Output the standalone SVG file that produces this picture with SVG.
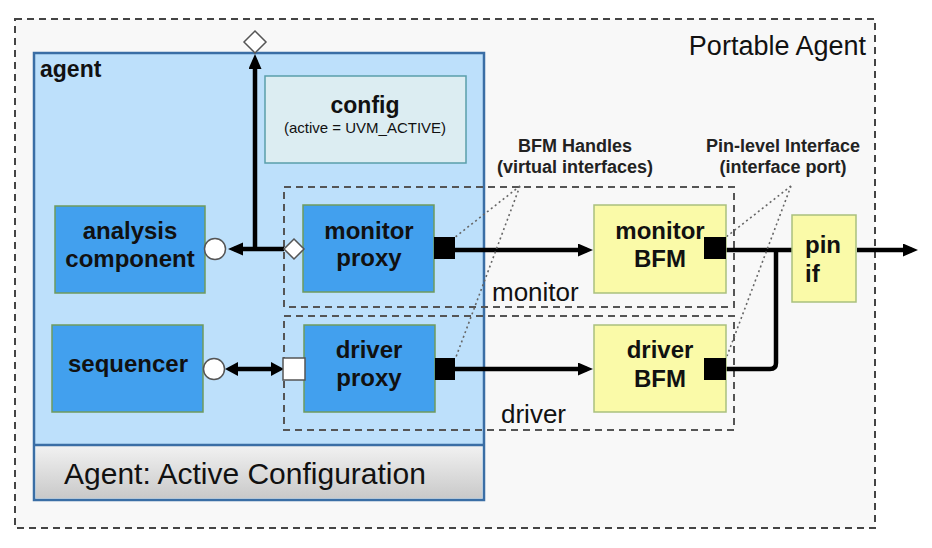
<svg xmlns="http://www.w3.org/2000/svg" width="932" height="548" viewBox="0 0 932 548">
<defs>
<linearGradient id="gpanel" x1="0" y1="0" x2="0" y2="1">
<stop offset="0" stop-color="#f2f2f2"/>
<stop offset="1" stop-color="#c9c9c9"/>
</linearGradient>
<marker id="arr" markerUnits="userSpaceOnUse" markerWidth="16" markerHeight="14" refX="9" refY="6.5" orient="auto">
<path d="M0,0 L15,6.5 L0,13 z" fill="#000"/>
</marker>
<marker id="arrb" markerUnits="userSpaceOnUse" markerWidth="14" markerHeight="14" refX="7" refY="7" orient="auto-start-reverse">
<path d="M0,0 L13,7 L0,14 z" fill="#000"/>
</marker>
</defs>
<style>
text{font-family:"Liberation Sans",Arial,sans-serif;fill:#111}
.b{font-weight:bold}
.lbl{font-size:24px;font-weight:bold;text-anchor:middle}
.blue{fill:#42a0ee;stroke:#6f9a5e;stroke-width:1.5}
.yel{fill:#fafaa8;stroke:#a9c07e;stroke-width:1.5}
.dash{fill:none;stroke:#555;stroke-width:2;stroke-dasharray:7 5}
.dot{fill:none;stroke:#666;stroke-width:1.6;stroke-dasharray:2 3}
.wire{fill:none;stroke:#000;stroke-width:4.5}
.port{fill:#000}
.wport{fill:#fff;stroke:#555;stroke-width:1.5}
.note{font-size:18px;font-weight:bold;text-anchor:middle;fill:#222}
</style>
<rect width="932" height="548" fill="#fff"/>
<g id="portable-agent">
<rect x="15" y="19" width="860" height="509" fill="#f8f8f8" stroke="#444" stroke-width="2" stroke-dasharray="7 5"/>
<text x="866" y="55" font-size="27" text-anchor="end" fill="#222">Portable Agent</text>
</g>
<g id="agent">
<rect x="34" y="53" width="450" height="447" fill="#bde0fb" stroke="#3a6ea5" stroke-width="2.5"/>
<rect x="35.5" y="445" width="447" height="53.5" fill="url(#gpanel)"/>
<line x1="34" y1="445" x2="484" y2="445" stroke="#3a6ea5" stroke-width="2.5"/>
<text x="40" y="77" font-size="23" class="b">agent</text>
<text x="64" y="484" font-size="30">Agent: Active Configuration</text>
</g>
<g id="config">
<rect x="265" y="76" width="201" height="87" fill="#dcedf2" stroke="#5a9eaa" stroke-width="1.5"/>
<text x="365" y="113" font-size="23" class="b" text-anchor="middle">config</text>
<text x="365" y="133" font-size="15" text-anchor="middle" fill="#333">(active = UVM_ACTIVE)</text>
</g>
<g id="monitor-group">
<rect x="284" y="187" width="450" height="120" class="dash"/>
<text x="492" y="301" font-size="26" fill="#222">monitor</text>
</g>
<g id="driver-group">
<rect x="284" y="316" width="450" height="114" class="dash"/>
<text x="501" y="423" font-size="26" fill="#222">driver</text>
</g>
<g id="connectors">
<path class="wire" d="M284,249 L234,249" marker-end="url(#arr)"/>
<path class="wire" d="M255,249 L255,60" marker-end="url(#arr)"/>
<path class="wire" d="M455,250 L587,250" marker-end="url(#arr)"/>
<path class="wire" d="M455,369 L587,369" marker-end="url(#arr)"/>
<path class="wire" d="M857,250 L912,250" marker-end="url(#arr)"/>
<path class="wire" d="M726,250 L792,250"/>
<path class="wire" d="M726,369 L770,369 Q776,369 776,363 L776,250"/>
<path class="wire" d="M231,369 L278,369" marker-start="url(#arrb)" marker-end="url(#arrb)"/>
<path class="dot" d="M520,186 L454,238 M520,186 L456,357"/>
<path class="dot" d="M791,186 L726,237 M791,186 L727,356"/>
</g>
<g id="analysis-component">
<rect x="55" y="206" width="150" height="87" class="blue"/>
<text x="130" y="239" class="lbl">analysis</text>
<text x="130" y="267" class="lbl">component</text>
<circle cx="215" cy="249" r="10.5" class="wport"/>
</g>
<g id="sequencer">
<rect x="52" y="325" width="151" height="87" class="blue"/>
<text x="128" y="372" class="lbl">sequencer</text>
<circle cx="214" cy="369" r="10.5" class="wport"/>
</g>
<g id="monitor-proxy">
<rect x="303" y="205" width="131" height="87" class="blue"/>
<text x="369" y="239" class="lbl">monitor</text>
<text x="369" y="266" class="lbl">proxy</text>
<rect x="434" y="237" width="21" height="22" class="port"/>
<polygon points="294,239 304,249 294,259 284,249" class="wport"/>
</g>
<g id="analysis-export">
<polygon points="255,31 266,42 255,53 244,42" class="wport"/>
</g>
<g id="driver-proxy">
<rect x="304" y="325" width="131" height="87" class="blue"/>
<text x="369" y="358" class="lbl">driver</text>
<text x="369" y="386" class="lbl">proxy</text>
<rect x="435" y="358" width="20" height="22" class="port"/>
<rect x="283" y="358" width="22" height="22" class="wport"/>
</g>
<g id="monitor-bfm">
<rect x="594" y="205" width="132" height="88" class="yel"/>
<text x="660" y="239" class="lbl">monitor</text>
<text x="660" y="267" class="lbl">BFM</text>
<rect x="704" y="237" width="22" height="22" class="port"/>
</g>
<g id="driver-bfm">
<rect x="594" y="325" width="132" height="87" class="yel"/>
<text x="660" y="358" class="lbl">driver</text>
<text x="660" y="387" class="lbl">BFM</text>
<rect x="704" y="358" width="22" height="22" class="port"/>
</g>
<g id="pin-if">
<rect x="792" y="215" width="64" height="87" class="yel"/>
<text x="805" y="253" font-size="24" class="b">pin</text>
<text x="805" y="282" font-size="24" class="b">if</text>
</g>
<g id="bfm-handles-note">
<text x="575" y="152" class="note">BFM Handles</text>
<text x="575" y="173" class="note">(virtual interfaces)</text>
</g>
<g id="pin-level-note">
<text x="783" y="152" class="note">Pin-level Interface</text>
<text x="783" y="173" class="note">(interface port)</text>
</g>
</svg>
